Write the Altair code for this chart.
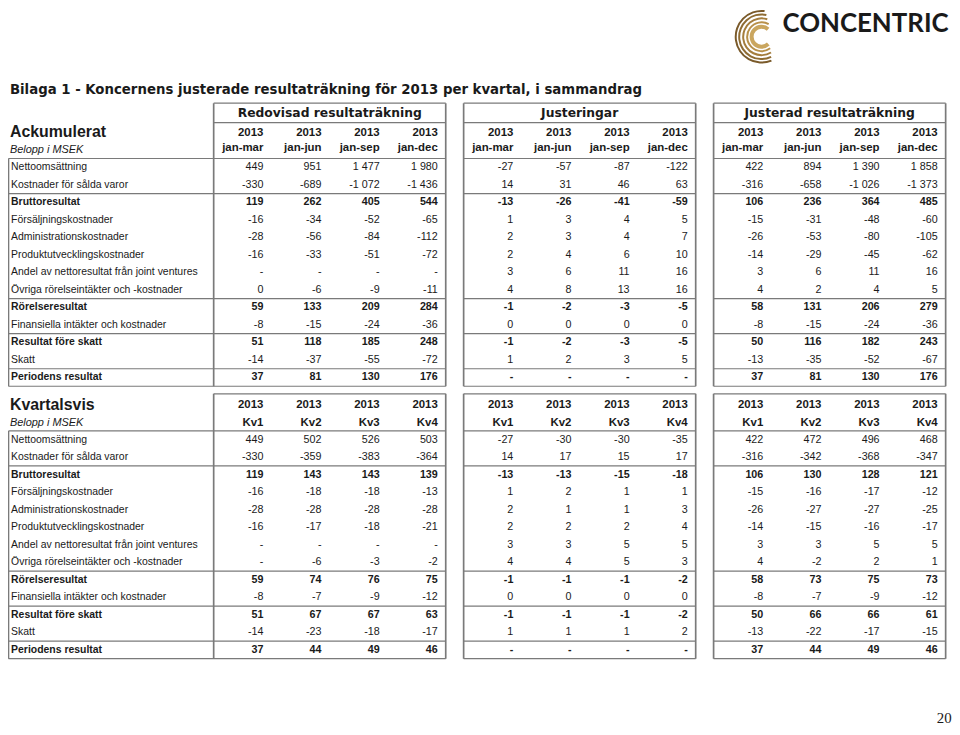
import altair as alt
import pandas as pd

# ---------------- data ----------------
TITLE = "Bilaga 1 - Koncernens justerade resultaträkning för 2013 per kvartal, i sammandrag"
SECTIONS = ["Ackumulerat", "Kvartalsvis"]
UNIT_LABEL = "Belopp i MSEK"
GROUP_TITLES = ["Redovisad resultaträkning", "Justeringar", "Justerad resultaträkning"]
YEAR = "2013"
ACK_PERIODS = ["jan-mar", "jan-jun", "jan-sep", "jan-dec"]
KV_PERIODS = ["Kv1", "Kv2", "Kv3", "Kv4"]
LOGO_TEXT = "CONCENTRIC"
PAGE_NUMBER = "20"

ROW_LABELS = [
    "Nettoomsättning",
    "Kostnader för sålda varor",
    "Bruttoresultat",
    "Försäljningskostnader",
    "Administrationskostnader",
    "Produktutvecklingskostnader",
    "Andel av nettoresultat från joint ventures",
    "Övriga rörelseintäkter och -kostnader",
    "Rörelseresultat",
    "Finansiella intäkter och kostnader",
    "Resultat före skatt",
    "Skatt",
    "Periodens resultat",
]
BOLD_ROWS = [2, 8, 10, 12]

# Ackumulerat (jan-mar, jan-jun, jan-sep, jan-dec); None = "-"
ack_redovisad = [
    [449, 951, 1477, 1980], [-330, -689, -1072, -1436], [119, 262, 405, 544],
    [-16, -34, -52, -65], [-28, -56, -84, -112], [-16, -33, -51, -72],
    [None, None, None, None], [0, -6, -9, -11], [59, 133, 209, 284],
    [-8, -15, -24, -36], [51, 118, 185, 248], [-14, -37, -55, -72],
    [37, 81, 130, 176],
]
ack_justeringar = [
    [-27, -57, -87, -122], [14, 31, 46, 63], [-13, -26, -41, -59],
    [1, 3, 4, 5], [2, 3, 4, 7], [2, 4, 6, 10],
    [3, 6, 11, 16], [4, 8, 13, 16], [-1, -2, -3, -5],
    [0, 0, 0, 0], [-1, -2, -3, -5], [1, 2, 3, 5],
    [None, None, None, None],
]
ack_justerad = [
    [422, 894, 1390, 1858], [-316, -658, -1026, -1373], [106, 236, 364, 485],
    [-15, -31, -48, -60], [-26, -53, -80, -105], [-14, -29, -45, -62],
    [3, 6, 11, 16], [4, 2, 4, 5], [58, 131, 206, 279],
    [-8, -15, -24, -36], [50, 116, 182, 243], [-13, -35, -52, -67],
    [37, 81, 130, 176],
]
# Kvartalsvis (Kv1..Kv4)
kv_redovisad = [
    [449, 502, 526, 503], [-330, -359, -383, -364], [119, 143, 143, 139],
    [-16, -18, -18, -13], [-28, -28, -28, -28], [-16, -17, -18, -21],
    [None, None, None, None], [None, -6, -3, -2], [59, 74, 76, 75],
    [-8, -7, -9, -12], [51, 67, 67, 63], [-14, -23, -18, -17],
    [37, 44, 49, 46],
]
kv_justeringar = [
    [-27, -30, -30, -35], [14, 17, 15, 17], [-13, -13, -15, -18],
    [1, 2, 1, 1], [2, 1, 1, 3], [2, 2, 2, 4],
    [3, 3, 5, 5], [4, 4, 5, 3], [-1, -1, -1, -2],
    [0, 0, 0, 0], [-1, -1, -1, -2], [1, 1, 1, 2],
    [None, None, None, None],
]
kv_justerad = [
    [422, 472, 496, 468], [-316, -342, -368, -347], [106, 130, 128, 121],
    [-15, -16, -17, -12], [-26, -27, -27, -25], [-14, -15, -16, -17],
    [3, 3, 5, 5], [4, -2, 2, 1], [58, 73, 75, 73],
    [-8, -7, -9, -12], [50, 66, 66, 61], [-13, -22, -17, -15],
    [37, 44, 49, 46],
]

# ---------------- layout (grid units: columns / rows) ----------------
W, H = 950, 719
COL_PX, ROW_PX = 58.5, 17.63        # size of one column / one row
ORIGIN_X, ORIGIN_Y = 265, 166       # first value column / first data row
GAP = 4.3                           # column offset between groups
T2 = 15.55                          # row offset of second table
XDOM = [(8 - ORIGIN_X) / COL_PX, (8 + W - ORIGIN_X) / COL_PX]
YDOM = [(8 - ORIGIN_Y) / ROW_PX, (8 + H - ORIGIN_Y) / ROW_PX]
LABEL_X = -4.34
TITLE_X = -4.36
BOX_L = -4.385


def gl(g):
    return g * GAP - 0.855


def gr(g):
    return g * GAP + 3.137


def fmt(v):
    return "-" if v is None else f"{v:,}".replace(",", " ")


xs = alt.Scale(domain=XDOM, nice=False, zero=False)
ys = alt.Scale(domain=YDOM, nice=False, zero=False, reverse=True)
INK = "#1a1a1a"
LINE = "#7a7a7a"
SANS = "Liberation Sans"
WIDE = "DejaVu Sans"


def text_layer(rows, **mark):
    df = pd.DataFrame(rows, columns=["x", "y", "t"])
    return alt.Chart(df).mark_text(baseline="middle", color=INK, **mark).encode(
        x=alt.X("x:Q", scale=xs, axis=None),
        y=alt.Y("y:Q", scale=ys, axis=None),
        text="t:N",
    )


tables = [
    (0.0, [ack_redovisad, ack_justeringar, ack_justerad], ACK_PERIODS, SECTIONS[0], True, -1.95, -1.12, -3.66),
    (T2, [kv_redovisad, kv_justeringar, kv_justerad], KV_PERIODS, SECTIONS[1], False, -1.99, -0.97, -2.62),
]

section_rows, unit_rows, gtitle_rows, head_rows = [], [], [], []
lab_reg, lab_bold, val_reg, val_bold = [], [], [], []
hsegs, vsegs = [], []

for base, groups, periods, section, has_titles, yr_y, per_y, box_top in tables:
    section_rows.append((TITLE_X, base - 1.99, section))
    unit_rows.append((TITLE_X, base - 0.96, UNIT_LABEL))
    for i, lab in enumerate(ROW_LABELS):
        (lab_bold if i in BOLD_ROWS else lab_reg).append((LABEL_X, base + i, lab))
    for g, vals in enumerate(groups):
        if has_titles:
            gtitle_rows.append(((gl(g) + gr(g)) / 2, base - 3.07, GROUP_TITLES[g]))
        for k in range(4):
            head_rows.append((g * GAP + k, base + yr_y, YEAR))
            head_rows.append((g * GAP + k, base + per_y, periods[k]))
        for i, row in enumerate(vals):
            for k, v in enumerate(row):
                (val_bold if i in BOLD_ROWS else val_reg).append((g * GAP + k, base + i, fmt(v)))
    # horizontal lines
    for hy in [-0.5, 1.5, 7.5, 9.5, 11.5, 12.5]:
        hsegs.append((BOX_L, gr(0), base + hy, base + hy))
        hsegs.append((gl(1), gr(1), base + hy, base + hy))
        hsegs.append((gl(2), gr(2), base + hy, base + hy))
    for g in range(3):
        hsegs.append((gl(g), gr(g), base + box_top, base + box_top))
        if has_titles:
            hsegs.append((gl(g), gr(g), base - 2.55, base - 2.55))
        vsegs.append((gl(g), gl(g), base + box_top, base + 12.5))
        vsegs.append((gr(g), gr(g), base + box_top, base + 12.5))
    vsegs.append((BOX_L, BOX_L, base - 0.5, base + 12.5))


def rule_layer(segs, width):
    df = pd.DataFrame(segs, columns=["x", "x2", "y", "y2"])
    return alt.Chart(df).mark_rule(color=LINE, strokeWidth=width).encode(
        x=alt.X("x:Q", scale=xs, axis=None), x2="x2:Q",
        y=alt.Y("y:Q", scale=ys, axis=None), y2="y2:Q",
    )


# logo arcs (gold concentric "C")
logo_df = pd.DataFrame({
    "x": [8.57] * 5,
    "y": [-7.45] * 5,
    "r1": [8, 13.5, 17.5, 21.5, 25],
    "r2": [12, 15.5, 19.5, 23.5, 27],
    "t1": [2.4, 2.5, 2.6, 2.7, 2.75],
    "t2": [7.0, 6.8, 6.6, 6.5, 6.4],
    "c": ["#caa65f", "#b89049", "#a47d3d", "#8f6c33", "#7a5a2a"],
})
logo = alt.Chart(logo_df).mark_arc().encode(
    x=alt.X("x:Q", scale=xs, axis=None),
    y=alt.Y("y:Q", scale=ys, axis=None),
    radius=alt.Radius("r2:Q", scale=None),
    radius2=alt.Radius2("r1:Q"),
    theta=alt.Theta("t1:Q", scale=None),
    theta2=alt.Theta2("t2:Q"),
    color=alt.Color("c:N", scale=None),
)

layers = [
    rule_layer(hsegs, 1.2),
    rule_layer(vsegs, 1.7),
    logo,
    text_layer([(8.93, -8.2, LOGO_TEXT)], align="left", font="Lato", fontSize=26, fontWeight="bold"),
    text_layer([(TITLE_X, -4.42, TITLE)], align="left", font=WIDE, fontSize=13.4, fontWeight="bold"),
    text_layer(section_rows, align="left", font=SANS, fontSize=16, fontWeight="bold"),
    text_layer(unit_rows, align="left", font=SANS, fontSize=11, fontStyle="italic"),
    text_layer(gtitle_rows, align="center", font=WIDE, fontSize=12.4, fontWeight="bold"),
    text_layer(head_rows, align="right", font=SANS, fontSize=11.5, fontWeight="bold"),
    text_layer(lab_reg, align="left", font=SANS, fontSize=10.5),
    text_layer(lab_bold, align="left", font=SANS, fontSize=10.5, fontWeight="bold"),
    text_layer(val_reg, align="right", font=SANS, fontSize=10.8),
    text_layer(val_bold, align="right", font=SANS, fontSize=10.8, fontWeight="bold"),
    text_layer([(11.84, 31.46, PAGE_NUMBER)], align="right", font="Liberation Serif", fontSize=15),
]

chart = alt.layer(*layers).properties(
    width=W, height=H, padding=0,
    autosize=alt.AutoSizeParams(type="none"),
).configure_view(stroke=None)

chart.save("out.html", embed_options={"renderer": "svg", "actions": False})
